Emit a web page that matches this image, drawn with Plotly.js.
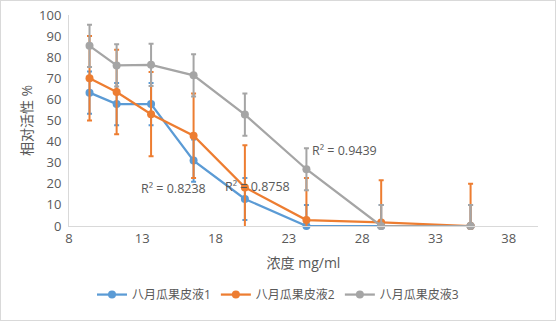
<!DOCTYPE html>
<html>
<head>
<meta charset="utf-8">
<script src="https://cdn.plot.ly/plotly-3.0.1.min.js"></script>
<style>
html,body{margin:0;padding:0;background:#fff;}
#frame{width:556px;height:321px;box-sizing:border-box;border:1px solid #d9d9d9;position:relative;overflow:hidden;}
#chart{position:absolute;left:-1px;top:-1px;width:556px;height:321px;}
</style>
</head>
<body>
<div id="frame"><div id="chart"></div></div>
<script>
// concentration (mg/ml)
var concentration = [9.4, 11.25, 13.6, 16.5, 20.0, 24.2, 29.3, 35.4];
var seriesNames = ['八月瓜果皮液1', '八月瓜果皮液2', '八月瓜果皮液3'];
var activity1 = [63.2, 57.8, 57.8, 31.0, 12.8, 0, 0, 0];
var activity2 = [70.0, 63.5, 53.0, 42.8, 18.3, 2.8, 1.7, 0];
var activity3 = [85.4, 76.1, 76.4, 71.4, 52.8, 26.9, 0, 0];
var error1 = [10, 10, 10, 10, 10, 10, 10, 10];
var error2 = [20, 20, 20, 20, 20, 20, 20, 20];
var error3 = [10, 10, 10, 10, 10, 10, 10, 10];
var r2Labels = ['R² = 0.8238', 'R² = 0.8758', 'R² = 0.9439'];
var r2X = [15.13, 20.85, 26.81];
var r2Y = [18.0, 18.5, 36.0];
var xTitle = '浓度 mg/ml';
var yTitle = '相对活性 %';

var colors = ['#5B9BD5', '#ED7D31', '#A5A5A5'];
var ys = [activity1, activity2, activity3];
var errs = [error1, error2, error3];
var FONT = 'Open Sans, Noto Sans CJK SC, sans-serif';

var traces = ys.map(function (y, i) {
  return {
    type: 'scatter', mode: 'lines+markers',
    x: concentration, y: y, name: seriesNames[i],
    line: {color: colors[i], width: 2.25},
    marker: {color: colors[i], size: 8, symbol: 'circle'},
    error_y: {type: 'data', array: errs[i], visible: true, color: colors[i], thickness: 2, width: 2.5},
    cliponaxis: false
  };
});

var annotations = r2Labels.map(function (t, i) {
  return {x: r2X[i], y: r2Y[i], xref: 'x', yref: 'y', text: t, showarrow: false,
    xanchor: 'center', yanchor: 'middle', font: {family: FONT, size: 12.5, color: '#595959'}};
});

var layout = {
  width: 556, height: 321,
  margin: {l: 69, r: 18, t: 15, b: 95},
  paper_bgcolor: '#ffffff', plot_bgcolor: '#ffffff',
  font: {family: FONT, color: '#595959', size: 13},
  showlegend: true,
  legend: {orientation: 'h', x: 0.4456, xanchor: 'center', y: -0.325, yanchor: 'middle',
    font: {family: FONT, size: 12, color: '#595959'}, itemwidth: 30, tracegroupgap: 0},
  xaxis: {
    range: [8, 40], tick0: 8, dtick: 5, showgrid: false, zeroline: false,
    showline: true, linecolor: '#d9d9d9', linewidth: 1, ticks: '',
    tickfont: {family: FONT, size: 13, color: '#595959'},
    title: {text: xTitle, font: {family: FONT, size: 14, color: '#595959'}, standoff: 12}
  },
  yaxis: {
    range: [0, 100], tick0: 0, dtick: 10, showgrid: false, zeroline: false,
    showline: true, linecolor: '#d9d9d9', linewidth: 1, ticks: '',
    tickfont: {family: FONT, size: 13, color: '#595959'}, ticklabelstandoff: 4,
    title: {text: yTitle, font: {family: FONT, size: 14, color: '#595959'}, standoff: 3}
  },
  annotations: annotations
};

Plotly.newPlot('chart', traces, layout, {staticPlot: true, displayModeBar: false});
</script>
</body>
</html>
